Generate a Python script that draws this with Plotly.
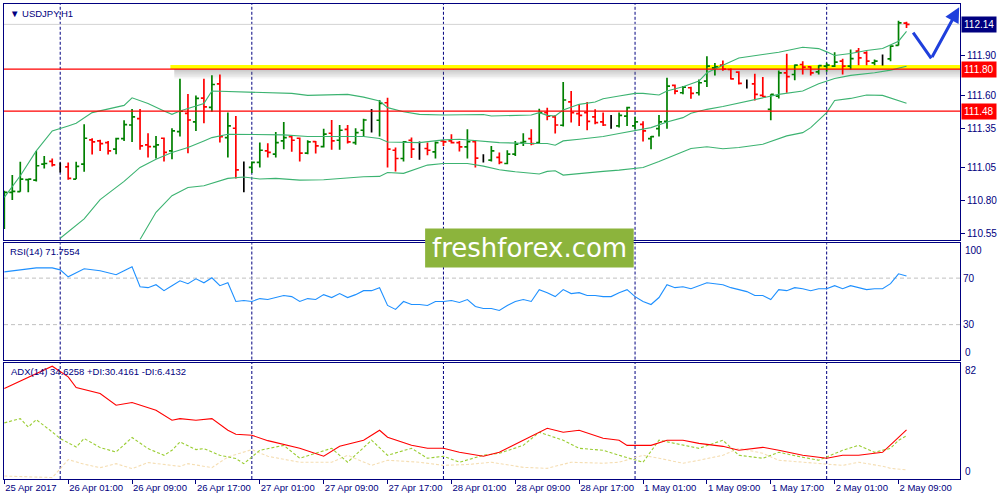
import plotly.graph_objects as go

# ---------------- data ----------------
bar_ids = list(range(-7, 107))  # hourly bars, 0 = 26 Apr 00:00

opens = [110.686, 110.863, 110.868, 110.959, 110.956, 111.077, 111.098,
         111.057, 111.057, 110.964, 111.077, 111.262, 111.254, 111.241, 111.191, 111.272, 111.375,
         111.423, 111.224, 111.211, 111.274, 111.178, 111.325, 111.464, 111.398, 111.580, 111.509,
         111.688, 111.279, 111.350, 111.045, 111.052, 111.090, 111.178, 111.153, 111.254, 111.287,
         111.274, 111.161, 111.249, 111.211, 111.312, 111.259, 111.342, 111.241, 111.335, 111.418,
         111.411, 111.544, 111.183, 111.120, 111.259, 111.209, 111.196, 111.171, 111.254, 111.254,
         111.241, 111.209, 111.249, 111.115, 111.108, 111.128, 111.082, 111.153, 111.241, 111.272,
         111.241, 111.469, 111.436, 111.373, 111.550, 111.461, 111.469, 111.436, 111.398, 111.380,
         111.368, 111.443, 111.368, 111.380, 111.272, 111.347, 111.403, 111.676, 111.620, 111.658,
         111.620, 111.709, 111.810, 111.830, 111.797, 111.777, 111.691, 111.688, 111.600, 111.494,
         111.595, 111.772, 111.759, 111.835, 111.817, 111.779, 111.822, 111.822, 111.860, 111.822,
         111.936, 111.923, 111.848, 111.865, 111.878, 111.981, 112.150]
highs = [110.875, 110.994, 111.095, 110.964, 111.178, 111.140, 111.120,
         111.090, 111.090, 111.095, 111.380, 111.274, 111.262, 111.254, 111.277, 111.411, 111.496,
         111.496, 111.312, 111.292, 111.279, 111.350, 111.726, 111.610, 111.600, 111.726, 111.754,
         111.759, 111.469, 111.443, 111.098, 111.097, 111.241, 111.236, 111.322, 111.398, 111.292,
         111.279, 111.259, 111.254, 111.347, 111.413, 111.375, 111.375, 111.350, 111.423, 111.496,
         111.565, 111.582, 111.204, 111.254, 111.279, 111.249, 111.241, 111.249, 111.259, 111.305,
         111.254, 111.342, 111.259, 111.153, 111.216, 111.166, 111.183, 111.254, 111.312, 111.342,
         111.499, 111.507, 111.451, 111.701, 111.633, 111.532, 111.550, 111.494, 111.469, 111.451,
         111.469, 111.514, 111.438, 111.403, 111.292, 111.451, 111.734, 111.683, 111.671, 111.666,
         111.721, 111.898, 111.847, 111.865, 111.805, 111.784, 111.721, 111.764, 111.739, 111.608,
         111.789, 111.916, 111.835, 111.860, 111.822, 111.830, 111.848, 111.928, 111.878, 111.949,
         111.961, 111.936, 111.873, 111.911, 111.981, 112.168, 112.160]
lows = [110.585, 110.805, 110.868, 110.863, 110.946, 111.044, 111.060,
        111.014, 110.959, 110.964, 111.019, 111.150, 111.178, 111.150, 111.153, 111.254, 111.246,
        111.186, 111.128, 111.120, 111.098, 111.115, 111.287, 111.161, 111.330, 111.388, 111.476,
        111.241, 111.128, 110.969, 110.863, 111.009, 111.052, 111.128, 111.128, 111.191, 111.171,
        111.097, 111.153, 111.158, 111.204, 111.186, 111.186, 111.234, 111.224, 111.287, 111.317,
        111.287, 111.052, 111.022, 111.097, 111.123, 111.110, 111.145, 111.120, 111.216, 111.234,
        111.173, 111.120, 111.052, 111.090, 111.097, 111.077, 111.077, 111.140, 111.216, 111.221,
        111.236, 111.411, 111.310, 111.363, 111.393, 111.368, 111.335, 111.380, 111.368, 111.347,
        111.355, 111.368, 111.342, 111.249, 111.191, 111.287, 111.347, 111.608, 111.608, 111.575,
        111.600, 111.663, 111.752, 111.787, 111.721, 111.683, 111.653, 111.562, 111.588, 111.411,
        111.577, 111.620, 111.716, 111.759, 111.752, 111.759, 111.779, 111.815, 111.759, 111.797,
        111.830, 111.830, 111.830, 111.827, 111.860, 111.979, 112.113]
closes = [110.863, 110.870, 110.964, 110.964, 111.065, 111.082, 111.072,
          111.057, 110.969, 111.060, 111.274, 111.246, 111.234, 111.178, 111.272, 111.378, 111.436,
          111.216, 111.211, 111.224, 111.166, 111.330, 111.481, 111.413, 111.577, 111.512, 111.683,
          111.287, 111.368, 111.034, 111.045, 111.090, 111.183, 111.166, 111.241, 111.279, 111.259,
          111.161, 111.246, 111.216, 111.305, 111.254, 111.335, 111.246, 111.317, 111.413, 111.418,
          111.539, 111.191, 111.120, 111.246, 111.191, 111.209, 111.183, 111.241, 111.246, 111.241,
          111.209, 111.249, 111.123, 111.115, 111.178, 111.090, 111.153, 111.229, 111.249, 111.234,
          111.469, 111.443, 111.375, 111.565, 111.469, 111.448, 111.403, 111.393, 111.375, 111.380,
          111.448, 111.507, 111.398, 111.330, 111.287, 111.398, 111.671, 111.633, 111.663, 111.615,
          111.696, 111.822, 111.817, 111.800, 111.726, 111.691, 111.691, 111.608, 111.590, 111.608,
          111.772, 111.742, 111.830, 111.815, 111.772, 111.827, 111.830, 111.853, 111.822, 111.880,
          111.885, 111.860, 111.860, 111.865, 111.974, 112.151, 112.140]

# Bollinger bands (read at selected bars)
bb_up_x = [-7, -5, -3, -1, 1, 2, 4, 6, 8, 9, 11, 13, 14, 15, 18, 19, 23, 29, 31, 36, 38, 40, 41, 43, 45,
           48, 53, 54, 59, 60, 61, 62, 63, 65, 67, 68, 70, 72, 73, 75, 76, 78, 80, 81, 83, 85, 88, 90,
           93, 95, 96, 97, 99, 101, 103, 105, 106]
bb_up_y = [110.825, 110.989, 111.178, 111.330, 111.368, 111.388, 111.469, 111.494, 111.524, 111.582,
           111.539, 111.481, 111.456, 111.481, 111.539, 111.633, 111.625, 111.615, 111.600, 111.608,
           111.587, 111.557, 111.507, 111.476, 111.456, 111.451, 111.455, 111.443, 111.451, 111.469,
           111.448, 111.443, 111.489, 111.532, 111.550, 111.575, 111.595, 111.615, 111.615, 111.603,
           111.633, 111.666, 111.709, 111.772, 111.830, 111.885, 111.911, 111.928, 111.966, 111.956,
           111.931, 111.903, 111.918, 111.941, 111.956, 112.012, 112.087]
bb_mid_x = [0, 3, 5, 8, 10, 12, 14, 16, 18, 19, 21, 23, 28, 31, 38, 40, 41, 45, 48, 50, 53, 55, 59, 61,
            62, 63, 65, 68, 70, 72, 74, 76, 78, 79, 81, 83, 87, 90, 93, 95, 97, 99, 102, 104, 106]
bb_mid_y = [110.514, 110.661, 110.807, 110.946, 111.052, 111.115, 111.166, 111.204, 111.254, 111.279,
            111.305, 111.305, 111.300, 111.287, 111.287, 111.272, 111.246, 111.241, 111.262, 111.267,
            111.249, 111.241, 111.234, 111.234, 111.221, 111.254, 111.267, 111.287, 111.310, 111.330,
            111.355, 111.398, 111.431, 111.464, 111.494, 111.515, 111.570, 111.608, 111.633, 111.688,
            111.729, 111.752, 111.772, 111.792, 111.822]
bb_low_x = [10, 12, 14, 16, 18, 19, 21, 23, 25, 27, 30, 33, 38, 40, 41, 43, 45, 46, 48, 51, 53, 55, 57,
            60, 61, 62, 63, 65, 68, 70, 72, 73, 75, 76, 78, 79, 81, 83, 85, 88, 91, 93, 94, 96, 97, 99,
            101, 103, 105, 106]
bb_low_y = [110.504, 110.711, 110.837, 110.900, 110.913, 110.931, 110.969, 110.980, 110.964, 110.969,
            110.956, 110.959, 110.981, 110.984, 111.014, 111.007, 111.052, 111.070, 111.082, 111.082,
            111.062, 111.034, 111.019, 111.002, 111.022, 111.027, 110.994, 111.007, 111.022, 111.032,
            111.045, 111.052, 111.097, 111.120, 111.171, 111.196, 111.209, 111.194, 111.204, 111.229,
            111.292, 111.317, 111.355, 111.469, 111.562, 111.577, 111.603, 111.600, 111.562, 111.540]

# RSI(14)
rsi_x = [-7, -5, -3, -1, 0, 1, 3, 5, 7] + list(range(8, 107))
rsi_y = [75.4, 77.1, 78.8, 78.8, 77.1, 71.1, 78.0, 76.3, 72.9,
         76.3, 79.7, 62.6, 61.8, 64.3, 59.2, 63.5, 67.7, 65.2, 69.4, 66.0, 70.3, 63.5, 66.0, 49.9, 50.7,
         49.9, 52.4, 51.6, 53.3, 55.0, 54.1, 49.9, 52.4, 51.6, 55.8, 53.3, 56.7, 53.3, 55.8, 59.2, 59.2,
         61.8, 46.5, 43.1, 49.9, 47.3, 47.3, 46.5, 49.9, 49.9, 50.7, 49.0, 51.6, 45.6, 43.9, 43.9, 42.2,
         46.5, 49.9, 51.6, 49.9, 60.1, 57.5, 54.1, 60.1, 56.7, 57.5, 55.0, 55.0, 54.1, 54.1, 57.5, 60.1,
         54.1, 49.9, 47.3, 53.3, 64.3, 61.8, 62.6, 60.9, 63.5, 66.0, 65.2, 64.3, 61.8, 60.1, 58.4, 55.0,
         55.0, 51.6, 60.1, 59.2, 61.8, 60.9, 59.2, 60.9, 60.9, 63.5, 60.9, 63.5, 61.8, 60.1, 60.9, 60.9,
         65.2, 73.7, 71.8]

# ADX(14), +DI, -DI
adx_x = [-7, -1, 1, 2, 5, 7, 9, 12, 14, 15, 17, 19, 21, 22, 24, 26, 30, 33, 35, 38, 40, 41, 44, 46, 48,
         50, 53, 55, 58, 61, 63, 65, 68, 70, 71, 74, 76, 78, 80, 83, 85, 88, 90, 93, 96, 98, 100, 103,
         104, 106]
adx_y = [63.7, 79.4, 71.9, 64.4, 60.2, 51.9, 53.8, 48.4, 41.4, 42.5, 41.4, 42.5, 34.3, 31.5, 30.8, 27.0,
         21.6, 16.0, 23.0, 27.3, 34.3, 29.4, 23.7, 21.6, 21.6, 18.8, 16.0, 18.8, 27.3, 35.7, 32.9, 34.3,
         28.7, 27.3, 23.7, 23.7, 27.3, 27.3, 25.1, 23.0, 20.2, 22.3, 20.2, 16.7, 14.6, 16.7, 16.7, 18.8,
         24.0, 34.6]
pdi_x = [-7, -5, -4, -3, -1, 0, 2, 3, 5, 7, 9, 11, 13, 14, 15, 17, 18, 20, 22, 23, 25, 28, 30, 34, 36,
         39, 41, 44, 46, 48, 50, 53, 55, 58, 60, 63, 65, 68, 70, 73, 75, 78, 80, 83, 85, 88, 90, 93, 95,
         98, 100, 102, 104, 105, 106]
pdi_y = [39.5, 42.5, 36.6, 41.8, 33.1, 28.5, 22.5, 28.5, 22.1, 19.0, 29.2, 21.4, 16.7, 20.2, 26.1, 20.7,
         21.4, 16.7, 14.4, 10.8, 20.2, 23.7, 14.6, 21.6, 11.8, 27.3, 16.7, 21.6, 14.6, 16.0, 11.8, 16.7,
         18.1, 23.7, 32.9, 27.3, 21.6, 20.2, 16.7, 11.8, 27.3, 23.7, 21.6, 27.3, 16.7, 14.6, 18.8, 15.3,
         13.2, 20.2, 23.7, 18.8, 21.6, 27.3, 30.4]
mdi_x = [-7, -1, 0, 1, 3, 5, 7, 9, 11, 15, 16, 19, 21, 24, 26, 30, 34, 36, 39, 41, 45, 48, 51, 54, 58,
         61, 64, 68, 70, 73, 75, 78, 80, 83, 85, 88, 90, 93, 95, 98, 100, 103, 104, 106]
mdi_y = [2.1, 1.0, 7.3, 13.7, 10.4, 8.0, 10.8, 7.3, 11.6, 8.9, 10.8, 8.0, 15.5, 20.7, 16.0, 11.8, 11.8,
         16.7, 9.6, 13.2, 11.8, 9.6, 10.2, 11.8, 8.2, 7.5, 11.8, 11.1, 11.8, 16.7, 14.6, 11.1, 13.2, 16.7,
         21.6, 18.1, 13.2, 11.8, 11.1, 9.6, 11.8, 9.0, 7.5, 6.4]

price_ticks = [110.55, 110.80, 111.05, 111.35, 111.60, 111.90]
time_tick_bars = [-7, 1, 9, 17, 25, 33, 41, 49, 57, 65, 73, 81, 89, 97, 105]
time_tick_text = ["25 Apr 2017", "26 Apr 01:00", "26 Apr 09:00", "26 Apr 17:00", "27 Apr 01:00",
                  "27 Apr 09:00", "27 Apr 17:00", "28 Apr 01:00", "28 Apr 09:00", "28 Apr 17:00",
                  "1 May 01:00", "1 May 09:00", "1 May 17:00", "2 May 01:00", "2 May 09:00"]
day_starts = [0, 24, 48, 72, 96]
level_support = 111.48
level_resist = 111.80
bid_price = 112.14

# ---------------- figure ----------------
NAVY = "#000080"
FONT = "Liberation Sans"
GREEN = "#008000"
fig = go.Figure()

groups = {"up": ([], GREEN), "down": ([], "#ff0000"), "doji": ([], "#000000")}
for k, (o, c) in enumerate(zip(opens, closes)):
    key = "up" if c > o else ("down" if c < o else "doji")
    groups[key][0].append(k)
for key, (ks, col) in groups.items():
    xs = [bar_ids[k] for k in ks]
    gaps = [b - a for a, b in zip(xs[:-1], xs[1:])]
    mg = min(gaps) if gaps else 1
    fig.add_trace(go.Ohlc(
        x=xs, open=[opens[k] for k in ks], high=[highs[k] for k in ks],
        low=[lows[k] for k in ks], close=[closes[k] for k in ks],
        increasing=dict(line=dict(color=col, width=1.7)),
        decreasing=dict(line=dict(color=col, width=1.7)),
        tickwidth=min(0.5, 0.38 / mg), xaxis="x", yaxis="y", showlegend=False, hoverinfo="skip"))

band_col = "#3cb371"
for bx, by in [(bb_up_x, bb_up_y), (bb_mid_x, bb_mid_y), (bb_low_x, bb_low_y)]:
    fig.add_trace(go.Scatter(x=bx, y=by, mode="lines", line=dict(color=band_col, width=1.1),
                             xaxis="x", yaxis="y", showlegend=False, hoverinfo="skip"))

fig.add_trace(go.Scatter(x=rsi_x, y=rsi_y, mode="lines", line=dict(color="#1e90ff", width=1.1),
                         xaxis="x2", yaxis="y2", showlegend=False, hoverinfo="skip"))
fig.add_trace(go.Scatter(x=mdi_x, y=mdi_y, mode="lines", line=dict(color="#f5deb3", width=1.1, dash="3px,2px"),
                         xaxis="x3", yaxis="y3", showlegend=False, hoverinfo="skip"))
fig.add_trace(go.Scatter(x=pdi_x, y=pdi_y, mode="lines", line=dict(color="#9acd32", width=1.1, dash="3px,2px"),
                         xaxis="x3", yaxis="y3", showlegend=False, hoverinfo="skip"))
fig.add_trace(go.Scatter(x=adx_x, y=adx_y, mode="lines", line=dict(color="#ff0000", width=1.1),
                         xaxis="x3", yaxis="y3", showlegend=False, hoverinfo="skip"))

xr = [-7.04, 112.7]
axis_common = dict(showline=True, mirror=True, linecolor=NAVY, linewidth=1, showgrid=False,
                   zeroline=False, fixedrange=True)
fig.update_layout(
    width=1000, height=500, autosize=False,
    margin=dict(l=3, r=39, t=3, b=21),
    paper_bgcolor="white", plot_bgcolor="white",
    font=dict(family=FONT, size=9.5, color=NAVY),
    xaxis=dict(domain=[0, 1], anchor="y", range=xr, showticklabels=False, ticks="",
               rangeslider=dict(visible=False), **axis_common),
    xaxis2=dict(domain=[0, 1], anchor="y2", range=xr, matches="x", showticklabels=False, ticks="",
                **axis_common),
    xaxis3=dict(domain=[0, 1], anchor="y3", range=xr, matches="x", tickmode="array",
                tickvals=time_tick_bars, ticktext=time_tick_text, ticks="outside", ticklen=4,
                tickcolor=NAVY, ticklabelposition="outside right",
                tickfont=dict(family=FONT, size=9.5, color=NAVY), **axis_common),
    yaxis=dict(domain=[0.5036, 1], anchor="x", range=[110.502, 112.295], side="right",
               tickmode="array", tickvals=price_ticks, ticktext=[f"{v:.2f}" for v in price_ticks],
               ticks="outside", ticklen=4, tickcolor=NAVY,
               tickfont=dict(family=FONT, size=10, color=NAVY), **axis_common),
    yaxis2=dict(domain=[0.2515, 0.4964], anchor="x2", range=[0, 100], side="right",
                tickmode="array", tickvals=[30, 70], ticktext=["30", "70"], ticks="",
                tickfont=dict(family=FONT, size=10, color=NAVY), **axis_common),
    yaxis3=dict(domain=[0, 0.2452], anchor="x3", range=[0, 82], side="right",
                showticklabels=False, ticks="", **axis_common),
)

shapes = []
# day separators
for d in day_starts:
    for yr in ["y domain", "y2 domain", "y3 domain"]:
        shapes.append(dict(type="line", xref="x", yref=yr, x0=d, x1=d, y0=0, y1=1,
                           line=dict(color=NAVY, width=1, dash="3px,2px"), layer="below"))
# bid line
shapes.append(dict(type="line", xref="x domain", yref="y", x0=0, x1=1, y0=bid_price, y1=bid_price,
                   line=dict(color="#d3d3d3", width=1), layer="below"))
# yellow highlight with shadow
for k in range(6):
    shapes.append(dict(type="rect", xref="x", yref="y", x0=14.3, x1=xr[1],
                       y0=level_resist - 0.012 * (k + 1), y1=level_resist,
                       fillcolor="rgba(120,120,120,0.07)", line=dict(width=0), layer="below"))
shapes.append(dict(type="rect", xref="x", yref="y", x0=13.8, x1=xr[1],
                   y0=level_resist, y1=level_resist + 0.031, fillcolor="#ffff00",
                   line=dict(width=0), layer="below"))
for lv in [level_resist, level_support]:
    shapes.append(dict(type="line", xref="x domain", yref="y", x0=0, x1=1, y0=lv, y1=lv,
                       line=dict(color="#ff0000", width=1.2), layer="above"))
# RSI levels
for lv in [70, 30]:
    shapes.append(dict(type="line", xref="x2 domain", yref="y2", x0=0, x1=1, y0=lv, y1=lv,
                       line=dict(color="#c0c0c0", width=1, dash="4px,3px"), layer="below"))
# watermark box
shapes.append(dict(type="rect", xref="paper", yref="paper", x0=0.4405, x1=0.6587, y0=0.4454,
                   y1=0.5273, fillcolor="#8cb43c", line=dict(width=0), layer="above"))
fig.update_layout(shapes=shapes)

ann = []
ann.append(dict(xref="x domain", yref="y domain", x=0.004, y=1, xanchor="left", yanchor="top",
                yshift=-2, text="▼ USDJPY,H1", showarrow=False,
                font=dict(family=FONT, size=9.5, color=NAVY)))
ann.append(dict(xref="x2 domain", yref="y2 domain", x=0.004, y=1, xanchor="left", yanchor="top",
                yshift=-1, text="RSI(14) 71.7554", showarrow=False,
                font=dict(family=FONT, size=9.5, color=NAVY)))
ann.append(dict(xref="x3 domain", yref="y3 domain", x=0.005, y=1, xanchor="left", yanchor="top",
                yshift=-1, text="ADX(14) 34.6258 +DI:30.4161 -DI:6.4132", showarrow=False,
                font=dict(family=FONT, size=9.5, color=NAVY)))
# inner scale labels
for txt, yr, yv, anc in [("100", "y2", 100, "top"), ("0", "y2", 0, "bottom"),
                         ("82", "y3", 82, "top"), ("0", "y3", 0, "bottom")]:
    ann.append(dict(xref="x domain", yref=yr, x=1, y=yv, xanchor="left", yanchor=anc, xshift=3,
                    text=txt, showarrow=False, font=dict(family=FONT, size=10, color=NAVY)))
# price labels
for lv, bg in [(bid_price, "#000080"), (level_resist, "#ff0000"), (level_support, "#ff0000")]:
    ann.append(dict(xref="x domain", yref="y", x=1, y=lv, xanchor="left", yanchor="middle", xshift=1,
                    text=f"{lv:.2f}", showarrow=False, bgcolor=bg, borderpad=2,
                    font=dict(family=FONT, size=10, color="white")))
# watermark text
ann.append(dict(xref="paper", yref="paper", x=0.5496, y=0.4864, xanchor="center", yanchor="middle",
                text="freshforex.com", showarrow=False,
                font=dict(family="DejaVu Sans", size=26, color="white")))
# hand drawn arrow
ann.append(dict(xref="x", yref="y", axref="x", ayref="y", x=109.1, y=111.881, ax=106.7, ay=112.088,
                showarrow=True, arrowhead=0, arrowwidth=3, arrowcolor="#1f3fdc", text=""))
ann.append(dict(xref="x", yref="y", axref="x", ayref="y", x=112.6, y=112.27, ax=109.1, ay=111.881,
                showarrow=True, arrowhead=2, arrowsize=1, arrowwidth=3, arrowcolor="#1f3fdc", text=""))
fig.update_layout(annotations=ann)

fig.write_html("out.html", config={"displayModeBar": False},
               post_script="document.body.style.margin='0';document.body.style.padding='0';")
